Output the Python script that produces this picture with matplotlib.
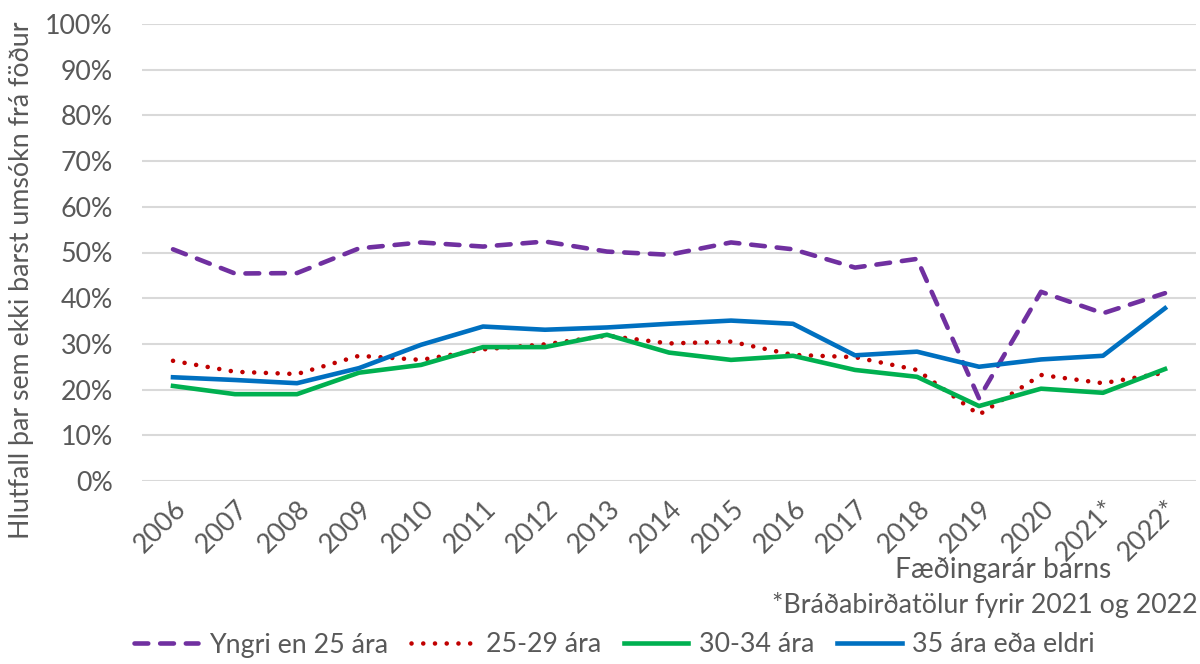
import matplotlib
matplotlib.use('Agg')
import matplotlib.pyplot as plt
from matplotlib.ticker import PercentFormatter

plt.rcParams['font.family'] = ['Lato', 'DejaVu Sans']

years = ['2006', '2007', '2008', '2009', '2010', '2011', '2012', '2013', '2014',
         '2015', '2016', '2017', '2018', '2019', '2020', '2021*', '2022*']

# hlutfall (%) eftir aldri móður
yngri_25 = [50.7, 45.4, 45.5, 50.9, 52.2, 51.3, 52.4, 50.2, 49.5,
            52.2, 50.7, 46.7, 48.6, 18.1, 41.4, 36.7, 41.1]
ara_25_29 = [26.3, 23.9, 23.4, 27.4, 26.5, 28.8, 29.9, 31.8, 30.1,
             30.5, 27.6, 27.1, 24.3, 14.5, 23.2, 21.4, 23.7]
ara_30_34 = [20.8, 19.0, 19.0, 23.7, 25.4, 29.3, 29.3, 32.0, 28.1,
             26.5, 27.4, 24.3, 22.8, 16.4, 20.2, 19.3, 24.5]
ara_35 = [22.7, 22.1, 21.4, 24.7, 29.8, 33.8, 33.1, 33.6, 34.4,
          35.1, 34.4, 27.5, 28.3, 25.0, 26.6, 27.4, 37.8]

grey = '#595959'
fs = 19.3
x = list(range(len(years)))

fig = plt.figure(figsize=(12, 6.64), dpi=100)
ax = fig.add_axes([142/1200, 183/664, 1054/1200, 457/664])

lw = 3.3
ax.plot(x, yngri_25, color='#7030A0', lw=lw, linestyle=(0, (3, 2.6)),
        dash_capstyle='round', label='Yngri en 25 ára')
ax.plot(x, ara_25_29, color='#C00000', lw=lw, linestyle=(0, (0.01, 2.55)),
        dash_capstyle='round', label='25-29 ára')
ax.plot(x, ara_30_34, color='#00B050', lw=lw, label='30-34 ára')
ax.plot(x, ara_35, color='#0070C0', lw=lw, label='35 ára eða eldri')

ax.set_ylim(0, 100)
ax.set_xlim(-0.5, len(years) - 0.5)
ax.set_yticks(range(0, 101, 10))
ax.yaxis.set_major_formatter(PercentFormatter(decimals=0))
ax.set_xticks(x)
ax.set_xticklabels(years, rotation=45, ha='right', va='top',
                   rotation_mode='anchor')
ax.tick_params(axis='both', length=0, labelsize=fs, colors=grey)
ax.tick_params(axis='y', pad=21)
ax.tick_params(axis='x', pad=11)
ax.grid(axis='y', color='#D9D9D9', lw=1.5)
ax.set_axisbelow(True)
for s in ax.spines.values():
    s.set_visible(False)

fig.text(22/1200, 1 - 280/664, 'Hlutfall þar sem ekki barst umsókn frá föður',
         rotation=90, ha='center', va='center', fontsize=fs, color=grey)
fig.text(1003/1200, 1 - 570/664, 'Fæðingarár barns', ha='center', va='center',
         fontsize=fs + 1, color=grey)
fig.text(1198/1200, 1 - 605/664, '*Bráðabirðatölur fyrir 2021 og 2022',
         ha='right', va='center', fontsize=fs, color=grey)

fig.legend(loc='center', bbox_to_anchor=(0.512, 1 - 645/664), ncol=4,
           frameon=False, fontsize=fs, handlelength=2.4, columnspacing=0.85,
           handletextpad=0.4, labelcolor=grey)

fig.savefig('out.png', dpi=100)
